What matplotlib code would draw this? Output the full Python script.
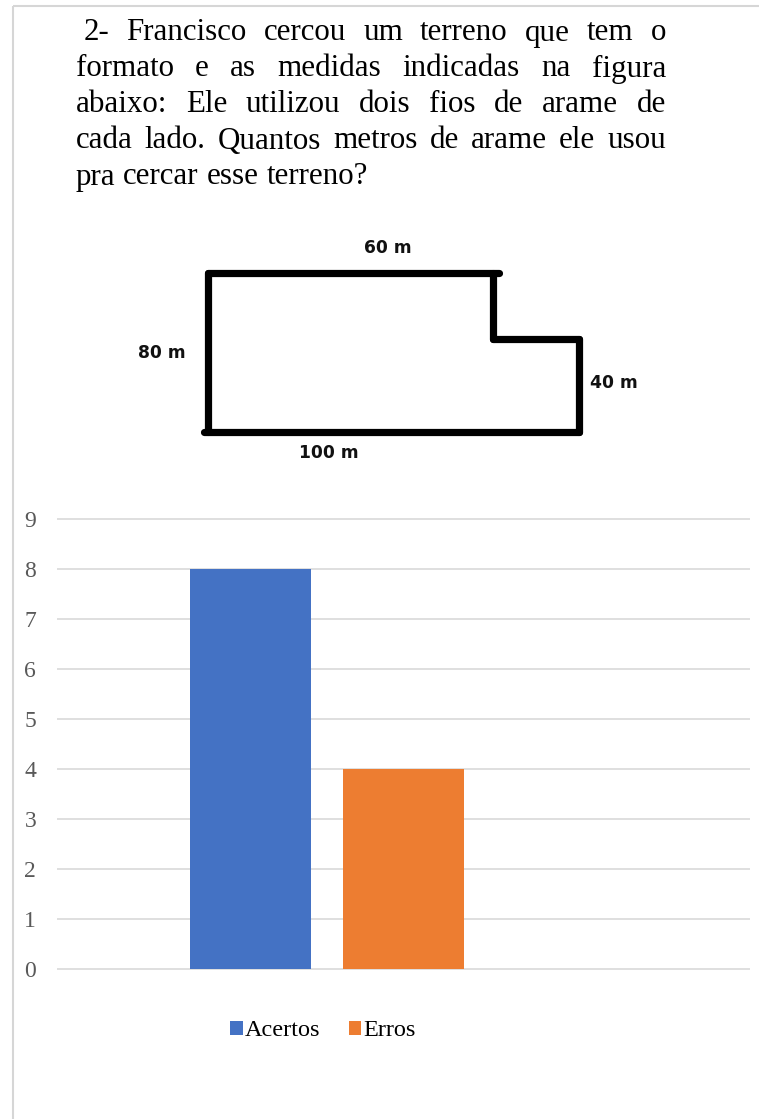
import numpy as np
import matplotlib
matplotlib.use("Agg")
import matplotlib.pyplot as plt

# question text, one entry per printed line (last line is not justified)
question_lines = [
    "2- Francisco cercou um terreno que tem o",
    "formato e as medidas indicadas na figura",
    "abaixo: Ele utilizou dois fios de arame de",
    "cada lado. Quantos metros de arame ele usou",
    "pra cercar esse terreno?",
]

# outline of the plot of land (figure units, pixels from top-left)
top_edge = [(208, 273), (499, 273)]
step_down = [(493, 273), (493, 339)]
step_right = [(493, 339), (579, 339)]
right_edge = [(579, 339), (579, 432)]
bottom_edge = [(204, 432), (579, 432)]
left_edge = [(208, 273), (208, 432)]
side_labels = ["60 m", "80 m", "40 m", "100 m"]
label_pos = [(388, 248), (162, 353), (614, 383), (329, 453)]

# chart data
categories = ["Acertos", "Erros"]
values = [8, 4]
bar_colors = ["#4472C4", "#ED7D31"]
y_ticks = list(range(0, 10))

W, H = 759, 1119
fig = plt.figure(figsize=(W / 100, H / 100), dpi=100)

bg = fig.add_axes([0, 0, 1, 1])
bg.set_xlim(0, W)
bg.set_ylim(H, 0)
bg.axis("off")

# page frame (top and left edges only)
bg.plot([12.7, W], [6, 6], color="#d6d6d6", lw=1.5, solid_capstyle="butt")
bg.plot([12.7, 12.7], [6, H], color="#d6d6d6", lw=1.5, solid_capstyle="butt")

# justified question text
fs = 22.3
serif = "Liberation Serif"
renderer = fig.canvas.get_renderer()
baselines = [40.5, 76.5, 112.5, 148.5, 184.5]
x_left, x_right = 76, 666
space_px = 0.25 * fs * 100 / 72
for i, line in enumerate(question_lines):
    words = line.split()
    texts = [bg.text(0, baselines[i], w, fontsize=fs, family=serif,
                     va="baseline", ha="left", color="black") for w in words]
    widths = [t.get_window_extent(renderer).width for t in texts]
    start = x_left + (space_px if i == 0 else 0)
    if i < len(question_lines) - 1:
        gap = (x_right - start - sum(widths)) / (len(words) - 1)
    else:
        gap = space_px
    x = start
    for t, w in zip(texts, widths):
        t.set_x(x)
        x += w + gap

# the land outline
for seg in [top_edge, step_down, step_right, right_edge, bottom_edge, left_edge]:
    xs, ys = zip(*seg)
    bg.plot(xs, ys, color="black", lw=5.2, solid_capstyle="round",
            solid_joinstyle="round")
for lab, (lx, ly) in zip(side_labels, label_pos):
    bg.text(lx, ly, lab, fontsize=12.3, fontweight="bold", family="DejaVu Sans",
            ha="center", va="center", color="#111111")

# bar chart: 50 px per unit, 0 at y=968.7, axes spans x 57..750
ymin, ymax = -0.1, 9.1
px_per_unit = 50.0
y0_px = 968.7
ax_bottom_px = y0_px + (-ymin) * px_per_unit
ax_top_px = y0_px - ymax * px_per_unit
ax = fig.add_axes([57 / W, (H - ax_bottom_px) / H, 693 / W,
                   (ax_bottom_px - ax_top_px) / H])
ax.set_facecolor("none")

slot = 153.0
pos = np.arange(len(categories))
bars = ax.bar(pos, values, width=121 / slot, color=bar_colors, zorder=3,
              label=categories)
blue_center = (250.5 - 57) / slot
ax.set_xlim(-blue_center, 693 / slot - blue_center)
ax.set_ylim(ymin, ymax)
ax.set_yticks(y_ticks)
ax.set_xticks([])
ax.yaxis.grid(True, color="#d9d9d9", lw=1.2)
ax.set_axisbelow(True)
for s in ax.spines.values():
    s.set_visible(False)
ax.tick_params(axis="y", length=0, pad=15, labelsize=17, labelcolor="#595959")
for lab in ax.get_yticklabels():
    lab.set_family(serif)

handles = list(bars.patches)
fig.legend(handles, categories, loc="center",
           bbox_to_anchor=(323 / W, 1 - 1031 / H), ncol=2, frameon=False,
           prop={"family": serif, "size": 17.5}, handlelength=0.5,
           handleheight=0.5, handletextpad=0.08, columnspacing=1.2)

fig.savefig("out.png", dpi=100)
